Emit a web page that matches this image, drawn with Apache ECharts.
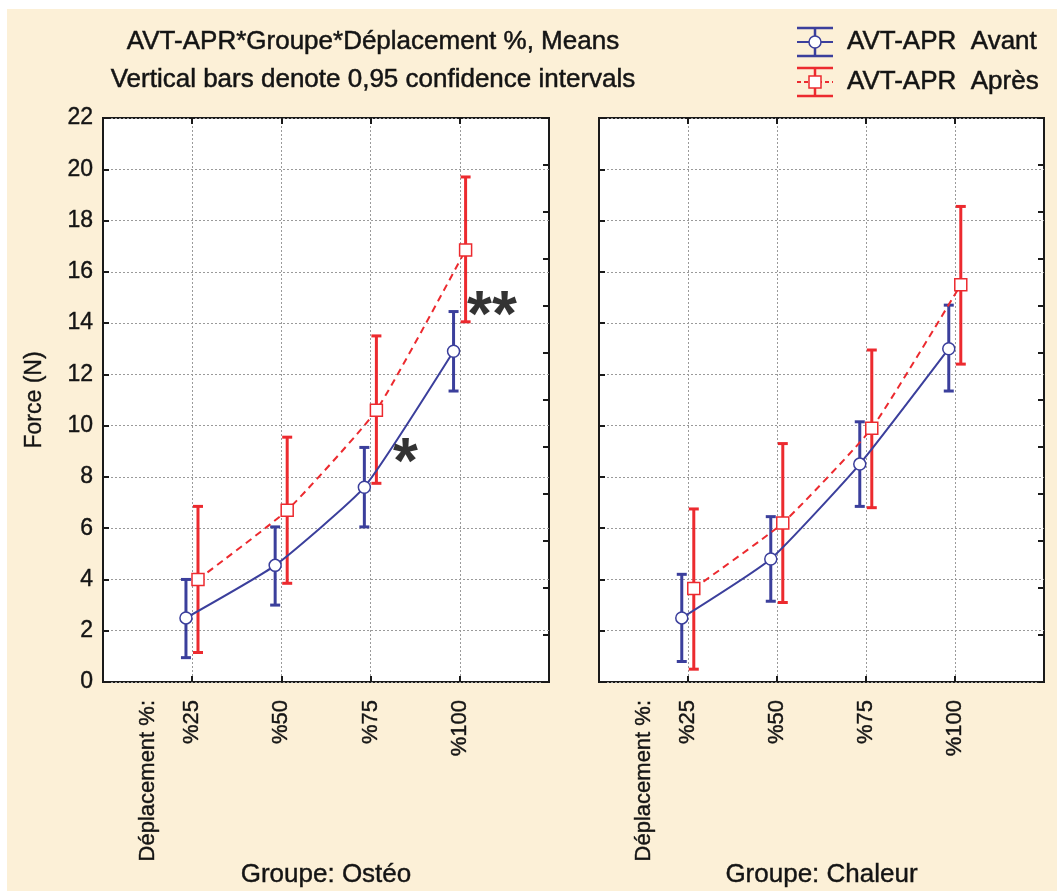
<!DOCTYPE html>
<html>
<head>
<meta charset="utf-8">
<script src="https://cdn.jsdelivr.net/npm/echarts@6/dist/echarts.min.js"></script>
<style>
html,body{margin:0;padding:0;background:#ffffff;width:1057px;height:891px;overflow:hidden;}
#chart{position:absolute;left:7px;top:9px;width:1050px;height:882px;background:#FCF0D7;}
</style>
</head>
<body>
<div id="chart"></div>
<script>
// ---- data ----
const categories = ['%25', '%50', '%75', '%100'];
const catPos = [1, 2, 3, 4];
const groups = ['Groupe: Ostéo', 'Groupe: Chaleur'];
const seriesNames = ['AVT-APR  Avant', 'AVT-APR  Après'];
const yTicks = [0, 2, 4, 6, 8, 10, 12, 14, 16, 18, 20, 22];

const avantOsteoMean = [2.5, 4.55, 7.6, 12.9];
const avantOsteoLow  = [0.95, 3.0, 6.05, 11.35];
const avantOsteoHigh = [4.0, 6.05, 9.15, 14.45];
const apresOsteoMean = [4.0, 6.7, 10.6, 16.85];
const apresOsteoLow  = [1.15, 3.85, 7.75, 14.05];
const apresOsteoHigh = [6.85, 9.55, 13.5, 19.7];

const avantChaleurMean = [2.5, 4.8, 8.5, 13.0];
const avantChaleurLow  = [0.8, 3.15, 6.85, 11.35];
const avantChaleurHigh = [4.2, 6.45, 10.15, 14.7];
const apresChaleurMean = [3.65, 6.2, 9.9, 15.5];
const apresChaleurLow  = [0.5, 3.1, 6.8, 12.4];
const apresChaleurHigh = [6.75, 9.3, 12.95, 18.55];

const annotTexts = ['*', '**'];
const annotX = [3.39, 4.36];
const annotY = [8.45, 14.2];

// ---- style ----
const BLUE = '#3B3F9C';
const RED = '#EC2A2F';
const FONT = 'Liberation Sans, Arial, sans-serif';
const TXT = '#141414';
const OFF_AVANT = -0.07, OFF_APRES = 0.065;

const gridL = [
  {left: 96, top: 109, width: 446, height: 564},
  {left: 592, top: 109, width: 445, height: 564}
];

function errRenderer(color) {
  return function (params, api) {
    const x = api.value(0), lo = api.value(1), hi = api.value(2);
    const a = api.coord([x, lo]), b = api.coord([x, hi]);
    const hw = 5;
    const st = {stroke: color, lineWidth: 3};
    return {type: 'group', children: [
      {type: 'line', shape: {x1: a[0], y1: a[1], x2: b[0], y2: b[1]}, style: st},
      {type: 'line', shape: {x1: a[0] - hw, y1: a[1], x2: a[0] + hw, y2: a[1]}, style: st},
      {type: 'line', shape: {x1: b[0] - hw, y1: b[1], x2: b[0] + hw, y2: b[1]}, style: st}
    ]};
  };
}

const panels = [
  {am: avantOsteoMean, al: avantOsteoLow, ah: avantOsteoHigh, pm: apresOsteoMean, pl: apresOsteoLow, ph: apresOsteoHigh},
  {am: avantChaleurMean, al: avantChaleurLow, ah: avantChaleurHigh, pm: apresChaleurMean, pl: apresChaleurLow, ph: apresChaleurHigh}
];

const grid = gridL.map(g => Object.assign({show: true, backgroundColor: '#ffffff', borderColor: '#1a1a1a',
  borderWidth: 2, containLabel: false, outerBoundsMode: 'none'}, g));

const xAxis = [], yAxis = [], series = [];
const splitStyle = {show: true, lineStyle: {color: '#9a9a9a', type: [2, 2], width: 1}};
const tickStyle = {color: '#1a1a1a', width: 2};
const labelFont = {fontFamily: FONT, color: TXT, textBorderColor: TXT, textBorderWidth: 0.4};

panels.forEach((p, gi) => {
  xAxis.push({
    type: 'value', gridIndex: gi, min: 0, max: 5, interval: 1, position: 'bottom',
    name: groups[gi], nameLocation: 'middle', nameGap: 180, nameMoveOverlap: false,
    nameTextStyle: Object.assign({fontSize: 26}, labelFont),
    axisLine: {show: false, onZero: false},
    axisTick: {show: true, inside: true, length: 6, customValues: catPos, lineStyle: tickStyle},
    axisLabel: Object.assign({
      show: true, rotate: 90, margin: 18, customValues: [0.5].concat(catPos), fontSize: 22,
      formatter: v => v === 0.5 ? 'Déplacement %:' : categories[Math.round(v) - 1]
    }, labelFont),
    splitLine: splitStyle
  });
  xAxis.push({
    type: 'value', gridIndex: gi, min: 0, max: 5, interval: 1, position: 'top',
    axisLine: {show: false, onZero: false}, axisLabel: {show: false}, splitLine: {show: false},
    axisTick: {show: true, inside: true, length: 6, customValues: catPos, lineStyle: tickStyle}
  });
  yAxis.push({
    type: 'value', gridIndex: gi, min: 0, max: 22, interval: 2, position: 'left',
    name: gi === 0 ? 'Force (N)' : '', nameLocation: 'middle', nameGap: 57, nameMoveOverlap: false,
    nameTextStyle: Object.assign({fontSize: 23}, labelFont),
    axisLine: {show: false, onZero: false},
    axisTick: {show: true, inside: true, length: 6, lineStyle: tickStyle},
    axisLabel: Object.assign({show: gi === 0, margin: 10, fontSize: 23,
      customValues: yTicks, formatter: v => String(v)}, labelFont),
    splitLine: splitStyle
  });
  yAxis.push({
    type: 'value', gridIndex: gi, min: 0, max: 12, interval: 1, position: 'right',
    axisLine: {show: false, onZero: false}, axisLabel: {show: false}, splitLine: {show: false},
    axisTick: {show: true, inside: true, length: 6, lineStyle: tickStyle}
  });
  const xi = gi * 2, yi = gi * 2;
  series.push({
    type: 'custom', name: seriesNames[0], xAxisIndex: xi, yAxisIndex: yi, z: 2,
    renderItem: errRenderer(BLUE),
    data: catPos.map((c, i) => [c + OFF_AVANT, p.al[i], p.ah[i]])
  });
  series.push({
    type: 'custom', name: seriesNames[1], xAxisIndex: xi, yAxisIndex: yi, z: 2,
    renderItem: errRenderer(RED),
    data: catPos.map((c, i) => [c + OFF_APRES, p.pl[i], p.ph[i]])
  });
  series.push({
    type: 'line', name: seriesNames[1], xAxisIndex: xi, yAxisIndex: yi, z: 3,
    smooth: 0.15, symbol: 'rect', symbolSize: 12,
    lineStyle: {color: RED, width: 2, type: [7, 5]},
    itemStyle: {color: '#ffffff', borderColor: RED, borderWidth: 1.5},
    data: catPos.map((c, i) => [c + OFF_APRES, p.pm[i]])
  });
  series.push({
    type: 'line', name: seriesNames[0], xAxisIndex: xi, yAxisIndex: yi, z: 4,
    smooth: 0.15, symbol: 'circle', symbolSize: 12,
    lineStyle: {color: BLUE, width: 2},
    itemStyle: {color: '#ffffff', borderColor: BLUE, borderWidth: 1.5},
    data: catPos.map((c, i) => [c + OFF_AVANT, p.am[i]])
  });
});

series.push({
  type: 'scatter', xAxisIndex: 0, yAxisIndex: 0, z: 5, symbolSize: 0,
  label: {show: true, position: 'inside', formatter: d => d.data[2], fontFamily: FONT,
    fontWeight: 'bold', fontSize: 64, color: '#000'},
  data: annotX.map((x, i) => [x, annotY[i], annotTexts[i]])
});

function legendIcon(cx, cy, color, dashed, square) {
  const st = {stroke: color, lineWidth: 2.5};
  const children = [
    {type: 'line', shape: {x1: cx, y1: cy - 14, x2: cx, y2: cy + 14}, style: st},
    {type: 'line', shape: {x1: cx - 18, y1: cy - 14, x2: cx + 18, y2: cy - 14}, style: st},
    {type: 'line', shape: {x1: cx - 18, y1: cy + 14, x2: cx + 18, y2: cy + 14}, style: st},
    {type: 'line', shape: {x1: cx - 18, y1: cy, x2: cx + 18, y2: cy},
      style: {stroke: color, lineWidth: 2, lineDash: dashed ? [4, 3] : null}}
  ];
  if (square) children.push({type: 'rect', shape: {x: cx - 6, y: cy - 6, width: 12, height: 12},
    style: {fill: '#fff', stroke: color, lineWidth: 1.5}});
  else children.push({type: 'circle', shape: {cx: cx, cy: cy, r: 6},
    style: {fill: '#fff', stroke: color, lineWidth: 1.5}});
  return {type: 'group', children: children};
}

function txt(x, y, s, align) {
  return {type: 'text', x: x, y: y, style: {text: s, fontFamily: FONT, fontSize: 26, fill: TXT,
    stroke: TXT, lineWidth: 0.5, textAlign: align, textVerticalAlign: 'middle'}};
}

const chart = echarts.init(document.getElementById('chart'), null, {renderer: 'canvas'});
chart.setOption({
  backgroundColor: '#FCF0D7',
  animation: false,
  grid: grid,
  xAxis: xAxis,
  yAxis: yAxis,
  series: series,
  graphic: [
    txt(366, 33, 'AVT-APR*Groupe*Déplacement %, Means', 'center'),
    txt(366, 71, 'Vertical bars denote 0,95 confidence intervals', 'center'),
    legendIcon(808, 33, BLUE, false, false),
    legendIcon(808, 73, RED, true, true),
    txt(840, 33, seriesNames[0], 'left'),
    txt(840, 73, seriesNames[1], 'left')
  ]
});
</script>
</body>
</html>
